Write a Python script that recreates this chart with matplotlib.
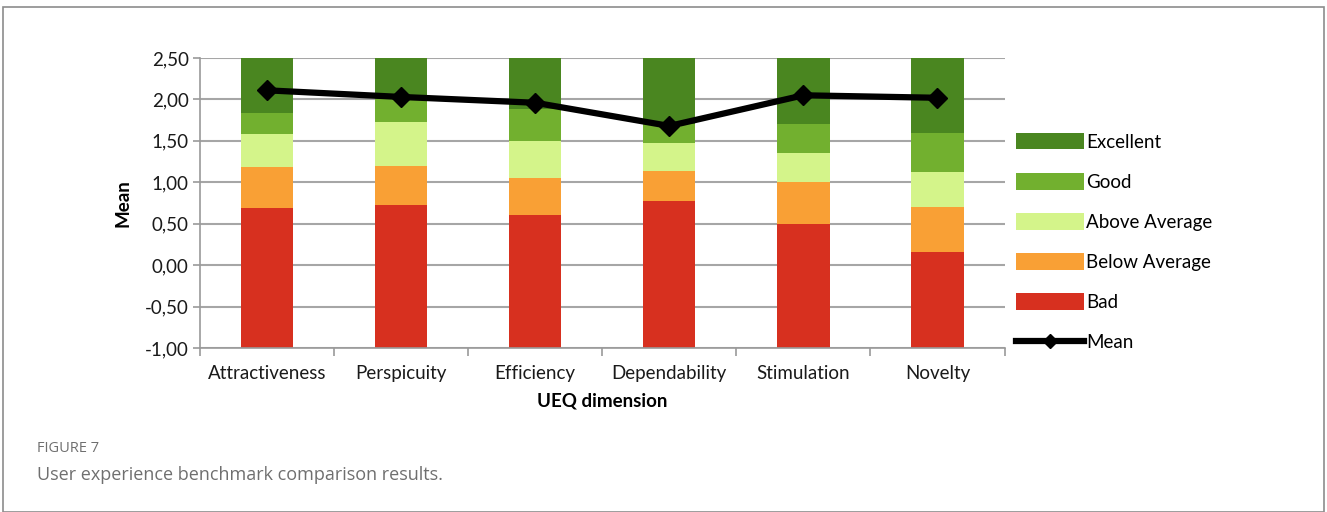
import matplotlib
matplotlib.use('Agg')
import matplotlib.pyplot as plt
from matplotlib.patches import Rectangle
from matplotlib.ticker import FixedLocator
import numpy as np

# UEQ dimensions and benchmark borders (upper limit of each band)
dimensions = ['Attractiveness', 'Perspicuity', 'Efficiency', 'Dependability', 'Stimulation', 'Novelty']
bad_top = [0.69, 0.72, 0.60, 0.78, 0.50, 0.16]
below_top = [1.18, 1.20, 1.05, 1.14, 1.00, 0.70]
above_top = [1.58, 1.73, 1.50, 1.48, 1.35, 1.12]
good_top = [1.84, 2.00, 1.88, 1.70, 1.70, 1.60]
excellent_top = [2.50, 2.50, 2.50, 2.50, 2.50, 2.50]
mean_values = [2.11, 2.03, 1.96, 1.68, 2.05, 2.02]

band_names = ['Bad', 'Below Average', 'Above Average', 'Good', 'Excellent']
band_colors = ['#d7301f', '#f9a035', '#d4f48a', '#72b02f', '#4a8620']
y_floor = -1.0

plt.rcParams['font.family'] = ['Lato', 'DejaVu Sans']

fig = plt.figure(figsize=(13.27, 5.12), dpi=100)
ax = fig.add_axes([0.1507, 0.3203, 0.6063, 0.5664])

x = np.arange(len(dimensions))
tops = [bad_top, below_top, above_top, good_top, excellent_top]
bottom = np.full(len(dimensions), y_floor)
band_handles = []
for name, color, top in zip(band_names, band_colors, tops):
    top = np.array(top)
    bars = ax.bar(x, top - bottom, bottom=bottom, width=0.39, color=color, label=name, zorder=2)
    band_handles.append(bars)
    bottom = top

mean_line, = ax.plot(x, mean_values, color='black', lw=4.5, marker='D', markersize=10,
                     label='Mean', zorder=3)

ax.set_xlim(-0.5, len(dimensions) - 0.5)
ax.set_ylim(-1.0, 2.5)
ax.set_yticks(np.arange(-1.0, 2.51, 0.5))
ax.set_yticklabels([('%.2f' % v).replace('.', ',') for v in np.arange(-1.0, 2.51, 0.5)])
ax.set_xticks(x)
ax.set_xticklabels(dimensions)
ax.xaxis.set_minor_locator(FixedLocator(np.arange(-0.5, len(dimensions), 1.0)))
ax.tick_params(axis='x', which='major', length=0, pad=12, labelsize=13.5, labelcolor='#1a1a1a')
ax.tick_params(axis='x', which='minor', length=6, color='#9a9a9a', width=1.2)
ax.tick_params(axis='y', length=5, color='#9a9a9a', width=1.2, labelsize=13.5, labelcolor='#1a1a1a', pad=3)

ax.grid(axis='y', color='#a6a6a6', lw=1.5, zorder=0)
ax.set_axisbelow(True)
for side in ['top', 'right']:
    ax.spines[side].set_visible(False)
ax.spines['left'].set_color('#9a9a9a')
ax.spines['bottom'].set_color('#9a9a9a')
ax.spines['left'].set_linewidth(1.2)
ax.spines['bottom'].set_linewidth(1.2)

ax.set_ylabel('Mean', fontsize=13.5, fontweight='bold', labelpad=10)
ax.set_xlabel('UEQ dimension', fontsize=13.5, fontweight='bold', labelpad=8)

# legend: bands from top to bottom, then the mean line
leg_handles = band_handles[::-1] + [mean_line]
leg_labels = band_names[::-1] + ['Mean']
ax.legend(leg_handles, leg_labels,
          loc='center left', bbox_to_anchor=(1.005, 0.365), frameon=False,
          fontsize=13.5, handlelength=3.6, handleheight=0.95, handletextpad=0.15,
          labelspacing=1.2, borderaxespad=0, markerscale=0.75)

# outer frame and caption
fig.patches.append(Rectangle((0.0025, 0.0), 0.995, 0.986, transform=fig.transFigure,
                             fill=False, edgecolor='#8c8c8c', lw=1.2))
fig.text(0.028, 0.118, 'FIGURE 7', fontsize=10.5, color='#6f6f6f', family=['Open Sans', 'DejaVu Sans'])
fig.text(0.028, 0.062, 'User experience benchmark comparison results.', fontsize=13,
         color='#6f6f6f', family=['Open Sans', 'DejaVu Sans'])

fig.savefig('out.png', dpi=100)
